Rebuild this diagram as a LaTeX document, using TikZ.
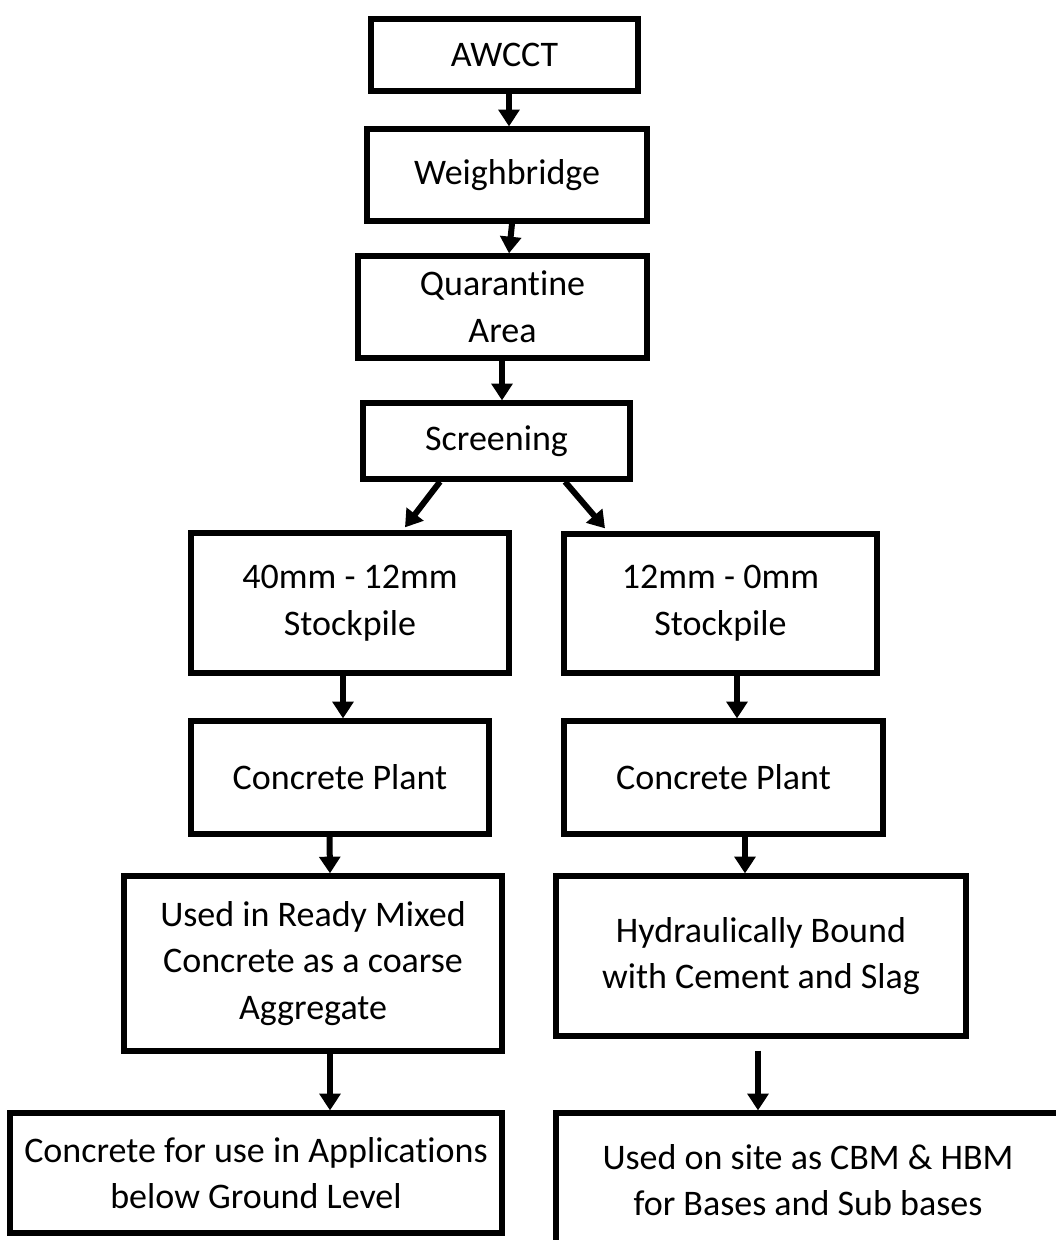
\documentclass[tikz,border=0pt]{standalone}
\usepackage{fontspec}
\setmainfont[Ligatures=NoCommon]{Carlito}
\usetikzlibrary{arrows.meta, calc}
\tikzset{
	box/.style={rectangle, draw=black, line width=4pt, fill=white, align=center, inner sep=2pt},
	sz/.style 2 args={minimum width=#1*0.75pt, minimum height=#2*0.75pt},
	flowarrow/.style={-{Triangle[length=12.5pt, width=15.5pt]}, line width=4.5pt},
}
\begin{document}
\begin{tikzpicture}[x=0.75pt, y=-0.75pt, every node/.style={font=\fontsize{27}{35}\selectfont}]
	\useasboundingbox (0,0) rectangle (1056,1240);
	\clip (0,0) rectangle (1056,1240);
	\fill[white] (0,0) rectangle (1056,1240);
	% main line
	\node[box, sz={267}{72}] (awcct) at (504.5,55) {AWCCT};
	\node[box, sz={280}{92}] (weigh) at (507,175) {Weighbridge};
	\node[box, sz={289}{102}] (quar) at (502.5,307) {Quarantine\\ Area};
	\node[box, sz={267}{76}] (screen) at (496.5,441) {Screening};
	% two stockpiles
	\node[box, sz={318}{140}] (stockA) at (350,603) {40mm - 12mm\\ Stockpile};
	\node[box, sz={313}{139}] (stockB) at (720.5,603.5) {12mm - 0mm\\ Stockpile};
	\node[box, sz={298}{113}] (plantA) at (340,777.5) {Concrete Plant};
	\node[box, sz={319}{113}] (plantB) at (723.5,777.5) {Concrete Plant};
	\node[box, sz={378}{175}] (rmc) at (313,963.5) {Used in Ready Mixed\\ Concrete as a coarse\\ Aggregate};
	\node[box, sz={410}{160}] (hbm) at (761,956) {Hydraulically Bound\\ with Cement and Slag};
	\node[box, sz={492}{120}] (below) at (256,1173) {Concrete for use in Applications\\ below Ground Level};
	\node[box, sz={504}{134}] (site) at (808,1180) {Used on site as CBM \& HBM\\ for Bases and Sub bases};
	\draw[flowarrow] ($(awcct.south)+(4.5,0)$) -- ($(weigh.north)+(2,0)$);
	\draw[flowarrow] ($(weigh.south)+(5,0)$) -- ($(quar.north)+(6.5,0)$);
	\draw[flowarrow] ($(quar.south)+(-0.5,0)$) -- ($(screen.north)+(5.5,0)$);
	\draw[flowarrow] ($(screen.south)+(-56.5,0)$) -- ($(stockA.north)+(55,-3)$);
	\draw[flowarrow] ($(screen.south)+(68.5,0)$) -- ($(stockB.north)+(-115.5,-3)$);
	\draw[flowarrow] ($(stockA.south)+(-7,0)$) -- ($(plantA.north)+(3,0)$);
	\draw[flowarrow] ($(stockB.south)+(16.5,0)$) -- ($(plantB.north)+(13.5,0)$);
	\draw[flowarrow] ($(plantA.south)+(-10.5,0)$) -- ($(rmc.north)+(17,0)$);
	\draw[flowarrow] ($(plantB.south)+(21.5,0)$) -- ($(hbm.north)+(-16,0)$);
	\draw[flowarrow] ($(rmc.south)+(17,0)$) -- ($(below.north)+(74,0)$);
	\draw[flowarrow] ($(hbm.south)+(-3,12)$) -- ($(site.north)+(-50,0)$);
\end{tikzpicture}
\end{document}
